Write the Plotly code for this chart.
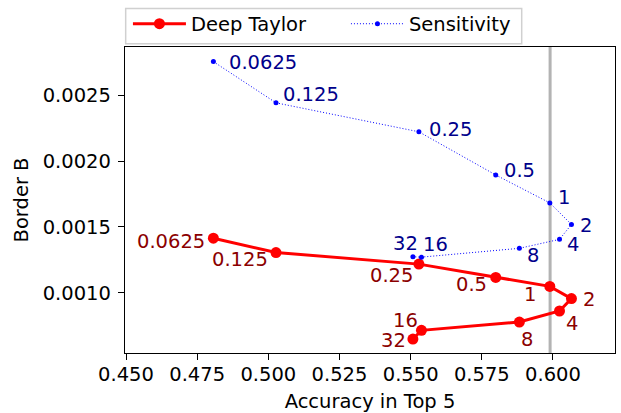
import plotly.graph_objects as go

# Data
thresholds = ["0.0625", "0.125", "0.25", "0.5", "1", "2", "4", "8", "16", "32"]
accuracy_top5 = [0.4807, 0.5027, 0.5529, 0.5799, 0.5989, 0.6065, 0.6023, 0.5882, 0.5538, 0.5508]
border_deep_taylor = [0.001414, 0.001305, 0.001217, 0.001116, 0.001048,
                      0.000955, 0.000861, 0.000777, 0.000714, 0.000648]
border_sensitivity = [0.002755, 0.002442, 0.002222, 0.001894, 0.001682,
                      0.001518, 0.001405, 0.001337, 0.001270, 0.001273]
reference_accuracy = 0.599

FONT = "DejaVu Sans"
FS = 19.5

# label placement (anchor, dx, dy in screen pixels, dy down)
sens_offsets = [("left", 14, 1), ("left", 5, -8), ("left", 8, -2), ("left", 6, -4),
                ("left", 6, -5), ("left", 7, 1), ("left", 5, 5), ("left", 6, 7),
                ("center", 14, -13), ("center", -7, -13)]
dt_offsets = [("right", -6, 3), ("right", -6, 7), ("right", -4, 11), ("right", -7, 7),
              ("right", -12, 8), ("left", 10, 1), ("left", 4, 12), ("left", 0, 17),
              ("right", -1, -10), ("right", -5, 1)]

fig = go.Figure()

# reference accuracy line
fig.add_vline(x=reference_accuracy, line=dict(color="#b3b3b3", width=3), layer="below")

fig.add_trace(go.Scatter(
    x=accuracy_top5, y=border_deep_taylor, name="Deep Taylor",
    mode="lines+markers",
    line=dict(color="red", width=3),
    marker=dict(color="red", size=11),
))
fig.add_trace(go.Scatter(
    x=accuracy_top5, y=border_sensitivity, name="Sensitivity",
    mode="lines+markers",
    line=dict(color="blue", width=1, dash="1px,2px"),
    marker=dict(color="blue", size=5),
))

annotations = []
for lbl, xv, yv, (anc, dx, dy) in zip(thresholds, accuracy_top5, border_sensitivity, sens_offsets):
    annotations.append(dict(x=xv, y=yv, text=lbl, showarrow=False, xanchor=anc, yanchor="middle",
                            xshift=dx, yshift=-dy, font=dict(family=FONT, size=FS, color="#00008b")))
for lbl, xv, yv, (anc, dx, dy) in zip(thresholds, accuracy_top5, border_deep_taylor, dt_offsets):
    annotations.append(dict(x=xv, y=yv, text=lbl, showarrow=False, xanchor=anc, yanchor="middle",
                            xshift=dx, yshift=-dy, font=dict(family=FONT, size=FS, color="#8b0000")))

# legend frame drawn separately so the entries can be spaced freely
fig.add_shape(type="rect", xref="paper", yref="paper",
              x0=0.0014, x1=0.8096, y0=1.0107, y1=1.126,
              line=dict(color="#d0d0d0", width=1.5), fillcolor="white", layer="above")

axis_style = dict(
    showgrid=False, zeroline=False, automargin=False,
    showline=True, linecolor="black", linewidth=1.3, mirror=True,
    ticks="outside", ticklen=6, tickwidth=1.2, tickcolor="black",
    tickfont=dict(family=FONT, size=FS, color="black"),
)

fig.update_layout(
    width=621, height=413,
    margin=dict(l=125, r=6, t=46, b=60),
    paper_bgcolor="white", plot_bgcolor="white",
    font=dict(family=FONT, size=FS, color="black"),
    annotations=annotations,
    showlegend=True,
    legend=dict(
        orientation="h", x=0.006, y=1.135, xanchor="left", yanchor="top",
        borderwidth=0, bgcolor="rgba(0,0,0,0)",
        itemwidth=53, entrywidth=150, entrywidthmode="pixels",
        font=dict(family=FONT, size=FS),
    ),
    xaxis=dict(axis_style, range=[0.44965, 0.6218], tick0=0.45, dtick=0.025, tickformat=".3f",
               ticklabelstandoff=-3,
               title=dict(text="Accuracy in Top 5", font=dict(family=FONT, size=FS), standoff=13)),
    yaxis=dict(axis_style, range=[0.000542, 0.002866], tick0=0.001, dtick=0.0005, tickformat=".4f",
               ticklabelstandoff=3,
               title=dict(text="Border B", font=dict(family=FONT, size=FS), standoff=8)),
)

fig.write_html("out.html", config={"displayModeBar": False},
               post_script="document.body.style.margin='0';")
